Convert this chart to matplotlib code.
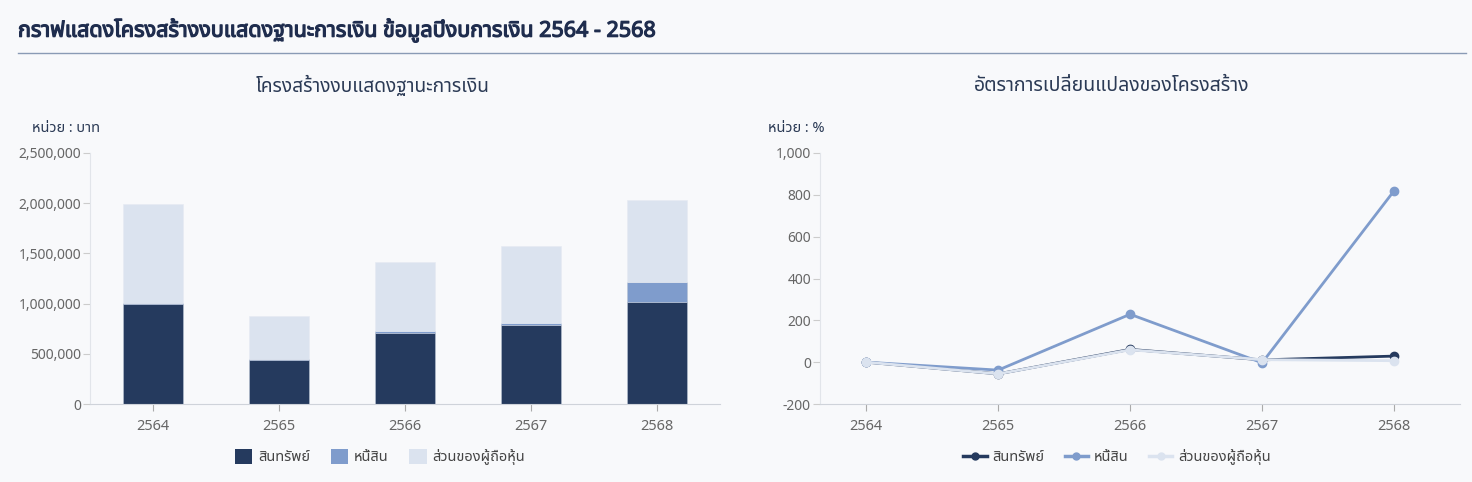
import matplotlib
matplotlib.use("Agg")
import matplotlib.pyplot as plt
import matplotlib.patheffects as pe
from matplotlib import font_manager as fm
from matplotlib.ft2font import FT2Font
from matplotlib.ticker import FuncFormatter, MultipleLocator
from matplotlib.patches import Patch
from matplotlib.lines import Line2D

################################################################################
# data

years = ["2564", "2565", "2566", "2567", "2568"]
series_names = ["สินทรัพย์", "หนี้สิน", "ส่วนของผู้ถือหุ้น"]

assets = [996000, 438000, 707000, 787000, 1016000]
liabilities = [11000, 6800, 22400, 21700, 199500]
equity = [985000, 431200, 684600, 765300, 816500]

pct_assets = [0, -56, 61, 11, 29]
pct_liabilities = [0, -38, 229, -3, 819]
pct_equity = [0, -56, 59, 12, 7]

main_title = "กราฟแสดงโครงสร้างงบแสดงฐานะการเงิน ข้อมูลปีงบการเงิน 2564 - 2568"
left_title = "โครงสร้างงบแสดงฐานะการเงิน"
right_title = "อัตราการเปลี่ยนแปลงของโครงสร้าง"
left_unit = "หน่วย : บาท"
right_unit = "หน่วย : %"

################################################################################

def find_thai_font() -> str:
    names = sorted({f.name for f in fm.fontManager.ttflist})
    for wanted in ["Noto Sans Thai", "Noto Sans Thai UI", "Noto Sans Thai Looped"]:
        if wanted in names:
            return wanted
    for f in fm.fontManager.ttflist:
        try:
            if ord("ก") in FT2Font(f.fname).get_charmap():
                return f.name
        except Exception:
            pass
    return "DejaVu Sans"


thai = find_thai_font()
plt.rcParams["font.family"] = [thai, "Noto Sans", "DejaVu Sans"]

BG = "#f8f9fb"
NAVY = "#253a5e"
MID = "#7f9ccc"
LIGHT = "#dbe3ef"
TEXT = "#2b3a55"
TICK = "#666666"
AXIS = "#cfd3da"
colors = [NAVY, MID, LIGHT]

W, H = 1472, 482
fig = plt.figure(figsize=(W / 100, H / 100), dpi=100, facecolor=BG)

def box(x0, y0, x1, y1):
    # pixel box -> figure fraction
    return [x0 / W, 1 - y1 / H, (x1 - x0) / W, (y1 - y0) / H]

# the Thai face has no bold weight, so thicken it with a stroke
fig.text(18 / W, 1 - 30 / H, main_title, fontsize=15.5, fontweight="bold",
         color="#1f2d4e", va="center", ha="left",
         path_effects=[pe.withStroke(linewidth=0.9, foreground="#1f2d4e")])
fig.add_artist(Line2D([18 / W, 1466 / W], [1 - 53 / H] * 2, color="#8a9bb5", lw=1))

################################################################################

def style_axis(ax):
    ax.set_facecolor(BG)
    for s in ["top", "right"]:
        ax.spines[s].set_visible(False)
    ax.spines["left"].set_color("#e2e5ea")
    ax.spines["bottom"].set_color(AXIS)
    ax.tick_params(axis="y", colors="#cccccc", labelcolor=TICK, labelsize=10, length=5, pad=1.5)
    ax.tick_params(axis="x", colors="#aaaaaa", labelcolor=TICK, labelsize=10.5, length=5, pad=6)

x = list(range(len(years)))

ax1 = fig.add_axes(box(90, 153, 720, 404))
style_axis(ax1)
ax1.bar(x, assets, width=0.48, color=NAVY, edgecolor="#b9c3d3", linewidth=0.4)
ax1.bar(x, liabilities, width=0.48, bottom=assets, color=MID, edgecolor="#b9c3d3", linewidth=0.4)
bottom2 = [a + b for a, b in zip(assets, liabilities)]
ax1.bar(x, equity, width=0.48, bottom=bottom2, color=LIGHT, edgecolor="#e6ebf3", linewidth=0.4)
ax1.set_xlim(-0.5, 4.5)
ax1.set_ylim(0, 2500000)
ax1.yaxis.set_major_locator(MultipleLocator(500000))
ax1.yaxis.set_major_formatter(FuncFormatter(lambda v, p: f"{int(v):,}"))
ax1.set_xticks(x, years)

fig.text(373 / W, 1 - 86 / H, left_title, fontsize=13.8, color=TEXT, ha="center", va="center")
fig.text(32 / W, 1 - 128 / H, left_unit, fontsize=10.5, color=TEXT, ha="left", va="center")

handles = [Patch(facecolor=c, edgecolor="none") for c in colors]
fig.legend(handles, series_names, loc="center", bbox_to_anchor=(380 / W, 1 - 457 / H),
           ncol=3, frameon=False, fontsize=10.5, handlelength=1.2, handleheight=1.2,
           columnspacing=1.4, handletextpad=0.4, labelcolor="#444444")

################################################################################

ax2 = fig.add_axes(box(820, 153, 1460, 404))
style_axis(ax2)
for vals, c in [(pct_assets, NAVY), (pct_liabilities, MID), (pct_equity, LIGHT)]:
    ax2.plot(x, vals, color=c, lw=2, marker="o", markersize=6)
ax2.set_xlim(-0.35, 4.5)
ax2.set_ylim(-200, 1000)
ax2.yaxis.set_major_locator(MultipleLocator(200))
ax2.yaxis.set_major_formatter(FuncFormatter(lambda v, p: f"{int(v):,}"))
ax2.set_xticks(x, years)

fig.text(1112 / W, 1 - 86 / H, right_title, fontsize=14, color=TEXT, ha="center", va="center")
fig.text(768 / W, 1 - 128 / H, right_unit, fontsize=10.5, color=TEXT, ha="left", va="center")

handles = [Line2D([], [], color=c, lw=2.5, marker="o", markersize=5) for c in colors]
fig.legend(handles, series_names, loc="center", bbox_to_anchor=(1117 / W, 1 - 457 / H),
           ncol=3, frameon=False, fontsize=10.5, handlelength=1.6,
           columnspacing=1.4, handletextpad=0.4, labelcolor="#444444")

fig.savefig("out.png", dpi=100, facecolor=BG)
